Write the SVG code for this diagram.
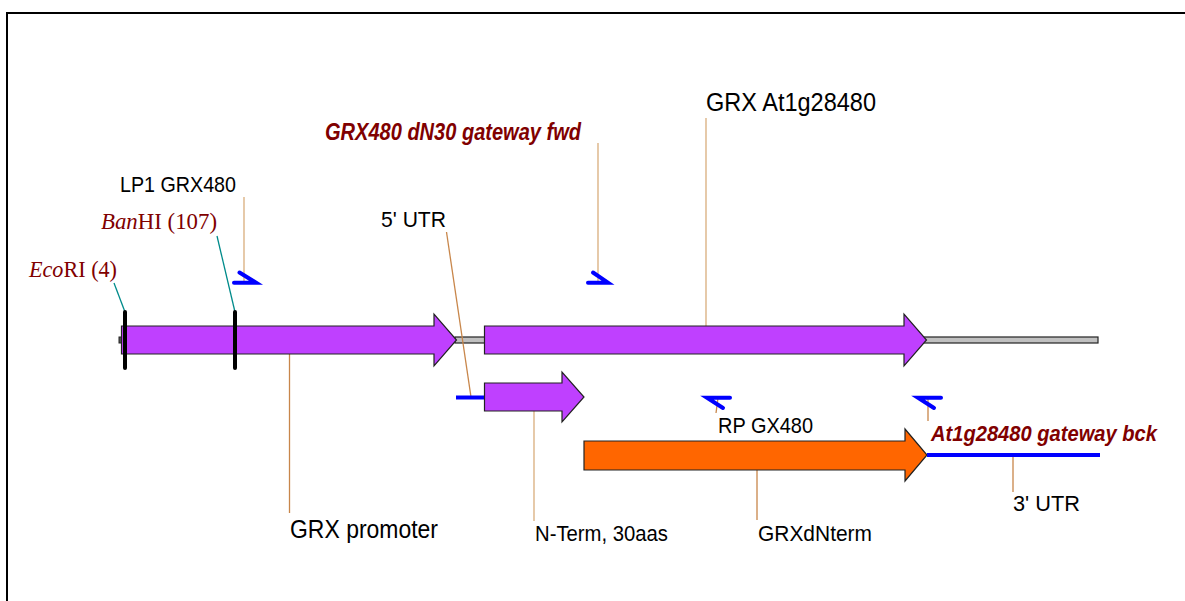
<svg xmlns="http://www.w3.org/2000/svg" width="1185" height="601" viewBox="0 0 1185 601">
<style>
.lbl{font-family:"Liberation Sans",Arial,sans-serif;fill:#000}
.prim{font-family:"Liberation Sans",Arial,sans-serif;font-weight:bold;font-style:italic;fill:#800000}
.enz{font-family:"Liberation Serif","Times New Roman",serif;fill:#800000;font-size:23px}
.lead{stroke:#d9ad7c;stroke-width:1.3;fill:none}
.lead2{stroke:#c8864a;stroke-width:1.3;fill:none}
.teal{stroke:#008b8b;stroke-width:1.3;fill:none}
.feat{stroke:#222;stroke-width:1.2;stroke-linejoin:miter}
.purple{fill:#bf40ff}
.orange{fill:#ff6600}
.primer{stroke:#0000ff;stroke-width:4;stroke-linecap:round;fill:none}
.utr{stroke:#0000ff;stroke-width:4;fill:none}
.cut{stroke:#000;stroke-width:4;stroke-linecap:round}
</style>
<rect width="1185" height="601" fill="#fff"/>
<path d="M7,601 V13 H1185" fill="none" stroke="#000" stroke-width="2"/>

<g id="backbone">
<rect x="455" y="337" width="643" height="6" fill="#c0c0c0" stroke="#222" stroke-width="1.2"/>
<rect x="119" y="337" width="4" height="6" fill="#555" stroke="#222" stroke-width="1"/>
</g>

<g id="connectors">
<line class="lead" x1="244" y1="197" x2="244" y2="283"/>
<line class="lead" x1="598" y1="143" x2="598" y2="282"/>
<line class="lead2" x1="446.5" y1="232" x2="471" y2="397"/>
<line class="lead" x1="706" y1="118" x2="706" y2="326"/>
<line class="lead2" x1="289.5" y1="354" x2="289.5" y2="513"/>
<line class="lead" x1="534" y1="411" x2="534" y2="521"/>
<line class="lead2" x1="757" y1="470" x2="757" y2="520"/>
<line class="lead2" x1="1013" y1="455" x2="1013" y2="492"/>
<line class="lead2" x1="718" y1="398" x2="716" y2="413"/>
<line class="lead2" x1="928" y1="398" x2="928" y2="421"/>
<line class="teal" x1="114" y1="283" x2="125" y2="312"/>
<line class="teal" x1="217" y1="236" x2="235" y2="312"/>
</g>

<g id="grx-promoter">
<polygon class="feat purple" points="121.5,326 434,326 434,314 456.5,340 434,366 434,354 121.5,354"/>
<text class="lbl" x="290" y="538" font-size="26" textLength="148" lengthAdjust="spacingAndGlyphs">GRX promoter</text>
</g>

<g id="grx-at1g28480">
<polygon class="feat purple" points="484.5,326 904,326 904,314 926.5,340 904,366 904,354 484.5,354"/>
<text class="lbl" x="706" y="111" font-size="25" textLength="170" lengthAdjust="spacingAndGlyphs">GRX At1g28480</text>
</g>

<g id="n-term">
<line class="utr" x1="456" y1="397.5" x2="484.5" y2="397.5"/>
<polygon class="feat purple" points="484.5,383 562,383 562,372 584,397 562,422 562,411 484.5,411"/>
<text class="lbl" x="535" y="541" font-size="22" textLength="133" lengthAdjust="spacingAndGlyphs">N-Term, 30aas</text>
</g>

<g id="grxdnterm">
<polygon class="feat orange" points="584,441 905,441 905,429 927,455 905,481 905,470 584,470"/>
<text class="lbl" x="758" y="541" font-size="22" textLength="114" lengthAdjust="spacingAndGlyphs">GRXdNterm</text>
</g>

<g id="utr3">
<line class="utr" x1="927" y1="455" x2="1100" y2="455"/>
<text class="lbl" x="1013" y="511" font-size="22" textLength="67" lengthAdjust="spacingAndGlyphs">3' UTR</text>
</g>

<g id="utr5">
<text class="lbl" x="381" y="227" font-size="22" textLength="65" lengthAdjust="spacingAndGlyphs">5' UTR</text>
</g>

<g id="ecori">
<line class="cut" x1="125" y1="312" x2="125" y2="368"/>
<text class="enz" x="29" y="277" textLength="88" lengthAdjust="spacingAndGlyphs"><tspan font-style="italic">Eco</tspan>RI (4)</text>
</g>

<g id="bamhi">
<line class="cut" x1="235" y1="312" x2="235" y2="368"/>
<text class="enz" x="101" y="229" textLength="116" lengthAdjust="spacingAndGlyphs"><tspan font-style="italic">Ban</tspan>HI (107)</text>
</g>

<g id="lp1">
<polyline class="primer" points="234,282.7 256,282.7 239.5,272.5"/>
<text class="lbl" x="120" y="192" font-size="22" textLength="116" lengthAdjust="spacingAndGlyphs">LP1 GRX480</text>
</g>

<g id="fwd">
<polyline class="primer" points="588,282.7 608,282.7 593,272.5"/>
<text class="prim" x="325" y="140" font-size="23" textLength="256" lengthAdjust="spacingAndGlyphs">GRX480 dN30 gateway fwd</text>
</g>

<g id="rp">
<polyline class="primer" points="730,397.7 707,397.7 723,408"/>
<text class="lbl" x="718" y="433" font-size="22" textLength="95" lengthAdjust="spacingAndGlyphs">RP GX480</text>
</g>

<g id="bck">
<polyline class="primer" points="941,397.7 918,397.7 934,408"/>
<text class="prim" x="931" y="441" font-size="22" textLength="226" lengthAdjust="spacingAndGlyphs">At1g28480 gateway bck</text>
</g>
</svg>
